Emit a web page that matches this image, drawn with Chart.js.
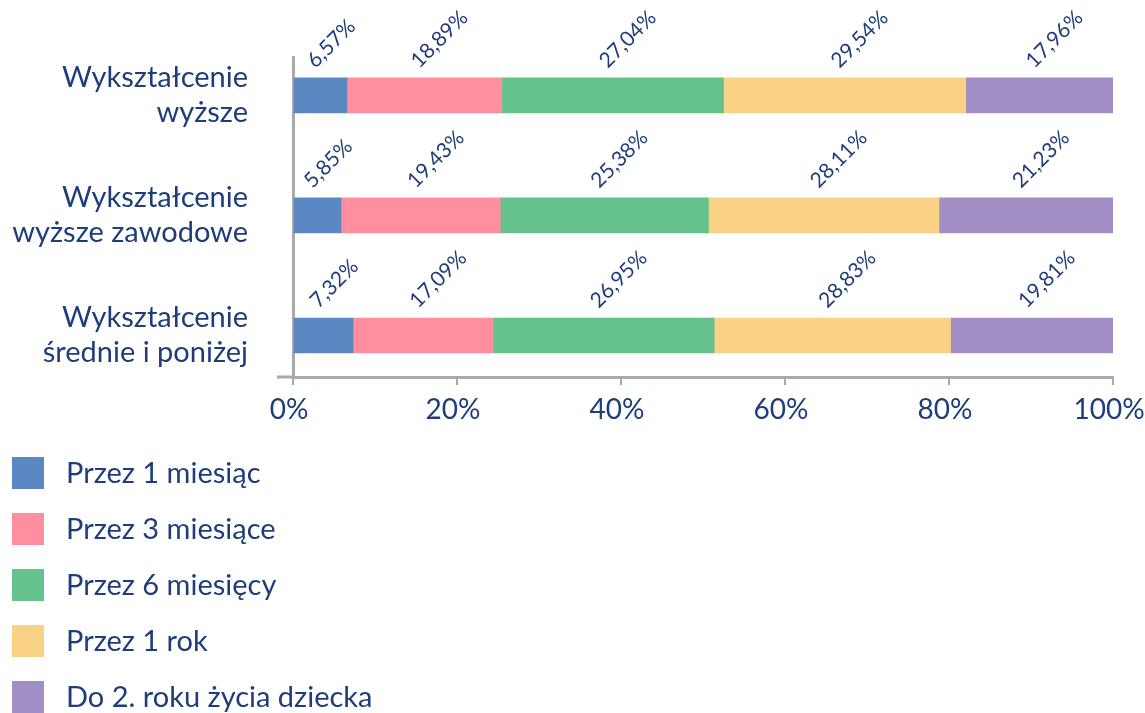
<!DOCTYPE html>
<html>
<head>
<meta charset="utf-8">
<script src="https://cdn.jsdelivr.net/npm/chart.js@4/dist/chart.umd.min.js"></script>
<style>
  html, body { margin: 0; padding: 0; background: #fff; }
  #wrap { width: 1145px; height: 713px; }
</style>
</head>
<body>
<div id="wrap"><canvas id="chart" width="1145" height="713"></canvas></div>
<script>
// kategorie (wiersze wykresu)
const categories = [
  ["Wykształcenie", "wyższe"],
  ["Wykształcenie", "wyższe zawodowe"],
  ["Wykształcenie", "średnie i poniżej"],
];

// serie
const seriesNames = [
  "Przez 1 miesiąc",
  "Przez 3 miesiące",
  "Przez 6 miesięcy",
  "Przez 1 rok",
  "Do 2. roku życia dziecka",
];
const month1 = [6.57, 5.85, 7.32];
const month3 = [18.89, 19.43, 17.09];
const month6 = [27.04, 25.38, 26.95];
const year1 = [29.54, 28.11, 28.83];
const year2 = [17.96, 21.23, 19.81];

const xTicks = [0, 20, 40, 60, 80, 100];

const colors = ["#5b87c3", "#ff8f9f", "#65c28c", "#fad285", "#a08ec4"];
const navy = "#1f3d7a";
const axisGray = "#aaaaaa";

Chart.defaults.font.family = "Lato";
Chart.defaults.color = navy;

const allSeries = [month1, month3, month6, year1, year2];

const datasets = allSeries.map((vals, i) => ({
  label: seriesNames[i],
  data: vals.map((v, j) => ({ x: v, y: j })),
  backgroundColor: colors[i],
  borderWidth: 0,
  barThickness: 35,
}));

// etykiety wartości nad słupkami, obrócone o 45 stopni
const valueLabels = {
  id: "valueLabels",
  afterDatasetsDraw(chart) {
    const ctx = chart.ctx;
    ctx.save();
    ctx.fillStyle = navy;
    ctx.font = "21px Lato";
    ctx.textAlign = "left";
    ctx.textBaseline = "alphabetic";
    chart.data.datasets.forEach((ds, di) => {
      const meta = chart.getDatasetMeta(di);
      meta.data.forEach((el, i) => {
        const v = ds.data[i].x;
        const cx = (el.x + el.base) / 2;
        const top = el.y - el.height / 2;
        ctx.save();
        ctx.translate(cx - 5, top - 9);
        ctx.rotate(-Math.PI / 4);
        ctx.fillText(v.toFixed(2).replace(".", ",") + "%", 0, 0);
        ctx.restore();
      });
    });
    // krótki występ osi X na lewo od osi Y
    const a = chart.chartArea;
    ctx.strokeStyle = axisGray;
    ctx.lineWidth = 3;
    ctx.beginPath();
    ctx.moveTo(a.left - 16, a.bottom);
    ctx.lineTo(a.left, a.bottom);
    ctx.stroke();
    ctx.restore();
  },
};

// legenda pionowa pod wykresem
const sideLegend = {
  id: "sideLegend",
  afterDraw(chart) {
    const ctx = chart.ctx;
    ctx.save();
    ctx.font = "29px Lato";
    ctx.textBaseline = "middle";
    ctx.textAlign = "left";
    chart.data.datasets.forEach((ds, i) => {
      const y = 457 + 56 * i;
      ctx.fillStyle = ds.backgroundColor;
      ctx.fillRect(12, y, 32, 32);
      ctx.fillStyle = navy;
      ctx.fillText(ds.label, 66, y + 17);
    });
    ctx.restore();
  },
};

new Chart(document.getElementById("chart"), {
  type: "bar",
  data: { datasets },
  options: {
    indexAxis: "y",
    responsive: false,
    animation: false,
    layout: { padding: { top: 57, right: 32, bottom: 0, left: 0 } },
    scales: {
      x: {
        type: "linear",
        stacked: true,
        min: xTicks[0],
        max: xTicks[xTicks.length - 1],
        afterBuildTicks: (scale) => {
          scale.ticks = xTicks.map((v) => ({ value: v }));
        },
        afterFit: (scale) => {
          scale.height = 713 - 377;
          scale.paddingLeft = 0;
          scale.paddingRight = 0;
        },
        ticks: {
          color: navy,
          font: { size: 28 },
          padding: 8,
          labelOffset: -4,
          maxRotation: 0,
          callback: (v) => v + "%",
        },
        grid: {
          drawOnChartArea: false,
          drawTicks: true,
          tickLength: 8,
          color: axisGray,
          lineWidth: 2,
        },
        border: { color: axisGray, width: 3 },
      },
      y: {
        type: "linear",
        stacked: true,
        reverse: true,
        offset: false,
        min: -0.32,
        max: 2.346,
        afterFit: (scale) => {
          scale.width = 293;
          scale.paddingTop = 0;
          scale.paddingBottom = 0;
        },
        ticks: {
          stepSize: 1,
          includeBounds: false,
          autoSkip: false,
          color: navy,
          font: { size: 29, lineHeight: 1.2 },
          padding: 45,
          callback: (v) => (Number.isInteger(v) && categories[v] ? categories[v] : ""),
        },
        grid: { display: true, offset: false, drawOnChartArea: false, drawTicks: false },
        border: { color: axisGray, width: 3 },
      },
    },
    plugins: {
      legend: { display: false },
      tooltip: { enabled: false },
    },
  },
  plugins: [valueLabels, sideLegend],
});
</script>
</body>
</html>
